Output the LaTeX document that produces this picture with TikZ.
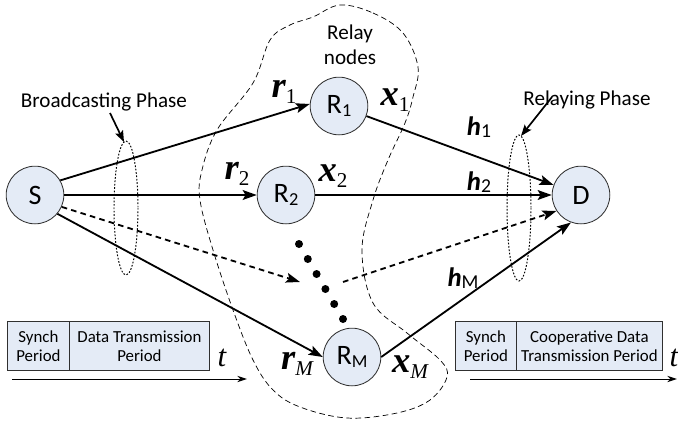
\documentclass[tikz,border=0pt]{standalone}
\usepackage{fontspec}
\setmainfont{Carlito}
\newfontfamily\timesf{Liberation Serif}
\usetikzlibrary{arrows.meta}

% Etichette dei canali
\newcommand\vlab[2]{{\timesf\bfseries\itshape\fontsize{26}{26}\selectfont #1}\raisebox{-4.5pt}{\timesf\fontsize{15}{15}\selectfont #2}}
\newcommand\hlab[2]{{\bfseries\itshape\fontsize{19}{19}\selectfont #1}\raisebox{-1.5pt}{\fontsize{14}{14}\selectfont #2}}
\newcommand\rlab[1]{R\raisebox{-2.5pt}{\fontsize{13}{13}\selectfont #1}}

\begin{document}
\begin{tikzpicture}[x=0.025cm, y=-0.025cm,
  nodo/.style={circle, draw=lineDark, line width=0.6pt, fill=colNodo,
    minimum size=41pt, inner sep=0pt, font=\fontsize{20}{20}\selectfont},
  freccia/.style={line width=1.3pt, -{Stealth[length=10pt,width=7pt,inset=2pt]}},
  tratteggio/.style={freccia, dash pattern=on 4pt off 3pt},
  puntatore/.style={line width=1.2pt, -{Stealth[length=8pt,width=6pt,inset=1.5pt]}},
  fase/.style={line width=0.7pt, dash pattern=on 1.2pt off 1.2pt},
  nuvola/.style={line width=0.5pt, dash pattern=on 4pt off 2.5pt},
  cella/.style={draw=lineDark, line width=0.6pt, fill=colNodo, anchor=north west,
    minimum height=34.9pt, inner sep=1pt, align=center, font=\fontsize{12}{13.5}\selectfont},
  tempo/.style={line width=0.7pt, -{Stealth[length=7pt,width=4.5pt]}},
  testo/.style={font=\fontsize{15}{18}\selectfont, align=center}
]

% Colori
\definecolor{colNodo}{HTML}{E4EBF6}
\definecolor{lineDark}{HTML}{303030}

\useasboundingbox (0,0) rectangle (678,428);

% Nuvola dei relay
\draw[nuvola] plot[smooth cycle, tension=0.6] coordinates {
  (340,5) (373,13) (403,33) (418,67) (413,97) (405,123) (388,160)
  (373,200) (362,250) (373,303) (407,333) (440,360) (447,377)
  (430,400) (397,413) (347,418) (300,407) (273,390) (253,360)
  (233,310) (213,250) (200,200) (202,170) (217,130) (253,83)
  (270,40) (290,25) (313,17)};
\node[testo] (relay) at (350,45) {Relay\\nodes};

% Fasi
\draw[fase] (126,208) ellipse [x radius=12, y radius=67];
\draw[fase] (519,208) ellipse [x radius=12, y radius=73];
\coordinate (ellA) at (124,142);
\coordinate (ellB) at (521,136);
\node[testo] (bcast) at (104,102) {Broadcasting Phase};
\node[testo] (relaying) at (587,100) {Relaying Phase};
\coordinate (puntoA) at (110,113);
\coordinate (puntoB) at (552,97);
\draw[puntatore] (puntoA) -- (ellA);
\draw[puntatore] (puntoB) -- (ellB);

% Nodi
\node[nodo] (S) at (35,195) {S};
\node[nodo] (R1) at (339,106) {\rlab{1}};
\node[nodo] (R2) at (286,195) {\rlab{2}};
\node[nodo] (RM) at (352,357) {\rlab{M}};
\node[nodo] (D) at (581,195) {D};

% Puntini
\foreach \i in {0,...,5}
  \fill ({299+8.8*\i},{244+15*\i}) circle (4);

% Collegamenti
\draw[freccia] (S.30) -- (R1.176);
\draw[freccia] (S) -- (R2);
\draw[freccia] (S.-40) -- (RM.west);
\draw[freccia] (R1) -- (D);
\draw[freccia] (R2) -- (D);
\draw[freccia] (RM.east) -- (D.250);
\coordinate (dashA) at (300,282);
\coordinate (dashB) at (343,282);
\draw[tratteggio] (S.-24) -- (dashA);
\draw[tratteggio] (dashB) -- (D.213);

% Etichette
\node (r1) at (284,92) {\vlab{r}{1}};
\node (r2) at (237,174) {\vlab{r}{2}};
\node (rM) at (297,364) {\vlab{r}{\itshape M}};
\node (x1) at (395,100) {\vlab{x}{1}};
\node (x2) at (333,176) {\vlab{x}{2}};
\node (xM) at (410,367) {\vlab{x}{\itshape M}};
\node (h1) at (479,127) {\hlab{h}{1}};
\node (h2) at (479,182) {\hlab{h}{2}};
\node (hM) at (463,278) {\hlab{h}{M}};

% Periodi
\node[cella, minimum width=44.1pt] (sincA) at (7,321) {Synch\\Period};
\node[cella, minimum width=99.6pt] (datiA) at (69,321) {Data Transmission\\Period};
\node[cella, minimum width=43.4pt] (sincB) at (455,321) {Synch\\Period};
\node[cella, minimum width=103.8pt] (datiB) at (516,321) {Cooperative Data\\Transmission Period};

% Assi temporali
\coordinate (tA0) at (12,379);
\coordinate (tA1) at (247,379);
\coordinate (tB0) at (470,379);
\coordinate (tB1) at (677,379);
\draw[tempo] (tA0) -- (tA1);
\draw[tempo] (tB0) -- (tB1);
\node[font=\timesf\itshape\fontsize{22}{22}\selectfont] (tA) at (222,358) {t};
\node[font=\timesf\itshape\fontsize{22}{22}\selectfont] (tB) at (674,358) {t};

\end{tikzpicture}
\end{document}
